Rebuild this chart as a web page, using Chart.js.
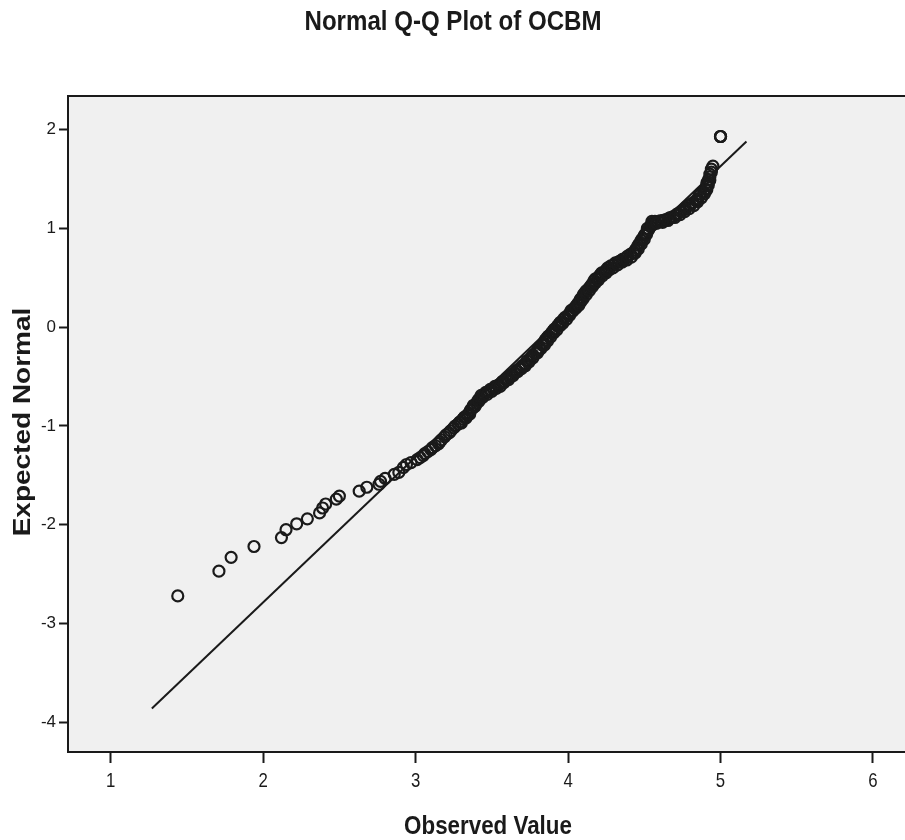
<!DOCTYPE html>
<html>
<head>
<meta charset="utf-8">
<script src="https://cdn.jsdelivr.net/npm/chart.js@4/dist/chart.umd.min.js"></script>
<style>
  html, body { margin: 0; padding: 0; background: #fff; overflow: hidden; }
</style>
</head>
<body>
<canvas id="qq" width="905" height="840"></canvas>
<script>
const observed = [
  1.44, 1.71, 1.79, 1.94, 2.12, 2.15, 2.22, 2.29, 2.37, 2.39, 2.41, 2.48, 2.50,
  2.63, 2.68, 2.76, 2.77, 2.80, 2.86, 2.89, 2.92, 2.94, 2.97,
  3.01, 3.03, 3.05, 3.06, 3.08, 3.10, 3.11, 3.13,
  3.15, 3.16, 3.17, 3.19, 3.20, 3.22, 3.23, 3.25, 3.26,
  3.28, 3.29, 3.31, 3.32, 3.34, 3.35,
  3.36, 3.37, 3.38, 3.40, 3.41, 3.42,
  3.43, 3.45, 3.46, 3.48, 3.49, 3.51, 3.52, 3.54,
  3.56, 3.57, 3.59, 3.60, 3.62, 3.63, 3.65, 3.66, 3.68,
  3.69, 3.70, 3.72, 3.73, 3.75, 3.76, 3.77, 3.79,
  3.80, 3.81, 3.83, 3.84, 3.85, 3.86, 3.87,
  3.89, 3.90, 3.91, 3.93, 3.94, 3.95, 3.97, 3.98,
  4.00, 4.01, 4.02, 4.04, 4.05, 4.06,
  4.07, 4.08, 4.09, 4.10, 4.11, 4.12, 4.14, 4.15, 4.16,
  4.17, 4.18, 4.20, 4.21, 4.22, 4.24, 4.25, 4.26,
  4.28, 4.30, 4.31, 4.33,
  4.34, 4.36, 4.38, 4.39, 4.41,
  4.43, 4.44, 4.45, 4.46, 4.47,
  4.48, 4.49, 4.50, 4.51, 4.52,
  4.52, 4.54, 4.55,
  4.55, 4.57, 4.59, 4.61,
  4.63, 4.64, 4.66, 4.67,
  4.69, 4.71, 4.72, 4.74,
  4.76, 4.77, 4.79, 4.80, 4.82,
  4.84, 4.85, 4.86, 4.87,
  4.89, 4.90, 4.91, 4.91,
  4.92, 4.93, 4.93, 4.94,
  4.94, 4.95,
  5.00, 5.00, 5.00,
  // circles packed beside the main run, where the band is thick
  3.30, 3.33, 3.355, 3.375, 3.39, 3.415, 3.44, 3.47, 3.50, 3.53,
  3.555, 3.58, 3.61, 3.64, 3.67, 3.695, 3.72, 3.745, 3.77, 3.80,
  3.82, 3.845, 3.865, 3.885, 3.905, 3.925, 3.945, 3.965, 3.99, 4.01,
  4.03, 4.05, 4.07, 4.085, 4.10, 4.12, 4.14, 4.16, 4.18, 4.20,
  4.225, 4.25, 4.27, 4.295, 4.325, 4.355, 4.385, 4.415, 4.44, 4.46,
  4.48, 4.50, 4.515, 4.53, 4.55, 4.58, 4.62, 4.655, 4.70, 4.735,
  4.765, 4.795, 4.825, 4.85, 4.875, 4.895, 4.91, 4.92, 4.93
];
const expected = [
  -2.72, -2.47, -2.33, -2.22, -2.13, -2.05, -1.99, -1.94, -1.88, -1.83, -1.79, -1.74, -1.71,
  -1.66, -1.62, -1.59, -1.56, -1.53, -1.49, -1.47, -1.42, -1.39, -1.37,
  -1.34, -1.32, -1.30, -1.28, -1.26, -1.24, -1.22, -1.20,
  -1.18, -1.16, -1.14, -1.11, -1.09, -1.07, -1.05, -1.02, -1.00,
  -0.98, -0.96, -0.93, -0.91, -0.89, -0.87,
  -0.84, -0.82, -0.79, -0.77, -0.74, -0.72,
  -0.69, -0.68, -0.66, -0.65, -0.63, -0.62, -0.60, -0.59,
  -0.57, -0.55, -0.53, -0.52, -0.50, -0.48, -0.46, -0.44, -0.42,
  -0.41, -0.39, -0.37, -0.34, -0.32, -0.30, -0.28, -0.26,
  -0.23, -0.21, -0.18, -0.16, -0.13, -0.11, -0.09,
  -0.06, -0.04, -0.02, 0.01, 0.03, 0.05, 0.08, 0.10,
  0.12, 0.14, 0.17, 0.19, 0.21, 0.23,
  0.25, 0.28, 0.30, 0.33, 0.35, 0.37, 0.40, 0.42, 0.44,
  0.47, 0.49, 0.51, 0.53, 0.55, 0.56, 0.58, 0.60,
  0.62, 0.63, 0.65, 0.66,
  0.67, 0.69, 0.70, 0.72, 0.74,
  0.75, 0.78, 0.80, 0.83, 0.85,
  0.88, 0.90, 0.93, 0.95, 0.97,
  1.00, 1.02, 1.05,
  1.07, 1.07, 1.07, 1.08,
  1.08, 1.09, 1.10, 1.11,
  1.12, 1.14, 1.15, 1.17,
  1.19, 1.21, 1.23, 1.24, 1.26,
  1.28, 1.30, 1.33, 1.35,
  1.37, 1.40, 1.43, 1.46,
  1.49, 1.52, 1.55, 1.57,
  1.60, 1.63,
  1.93, 1.93, 1.93,
  -0.97, -0.92, -0.88, -0.82, -0.80, -0.75, -0.71, -0.68, -0.65, -0.62,
  -0.60, -0.56, -0.53, -0.49, -0.45, -0.42, -0.39, -0.35, -0.31, -0.26,
  -0.22, -0.18, -0.14, -0.10, -0.06, -0.03, 0.01, 0.04, 0.08, 0.12,
  0.16, 0.19, 0.22, 0.26, 0.29, 0.33, 0.37, 0.41, 0.45, 0.48,
  0.52, 0.55, 0.58, 0.60, 0.63, 0.66, 0.68, 0.71, 0.75, 0.79,
  0.84, 0.89, 0.94, 0.99, 1.03, 1.05, 1.06, 1.08, 1.11, 1.14,
  1.17, 1.20, 1.23, 1.27, 1.31, 1.35, 1.39, 1.44, 1.49
];
// reference line end points
const lineX = [1.27, 5.17];
const lineY = [-3.86, 1.88];

const xTicks = [1, 2, 3, 4, 5, 6];
const yTicks = [2, 1, 0, -1, -2, -3, -4];

const chartTitle = 'Normal Q-Q Plot of OCBM';
const xTitle = 'Observed Value';
const yTitle = 'Expected Normal';

const arial = "'Liberation Sans', Arial, sans-serif";
const ink = '#1a1a1a';
const squeeze = 0.86; // the original picture is a bit narrowed

// draw text narrowed along the screen x direction
function narrowText(ctx, text, x, y, font, rotated, k) {
  ctx.save();
  ctx.translate(x, y);
  if (rotated) {
    ctx.rotate(-Math.PI / 2);
    ctx.scale(1, k || squeeze);
  } else {
    ctx.scale(k || squeeze, 1);
  }
  ctx.font = font;
  ctx.fillStyle = ink;
  ctx.textAlign = 'center';
  ctx.textBaseline = 'alphabetic';
  ctx.fillText(text, 0, 0);
  ctx.restore();
}

const plotFrame = {
  id: 'plotFrame',
  beforeDraw(chart) {
    const { ctx, chartArea: a } = chart;
    ctx.save();
    ctx.fillStyle = '#f0f0f0';
    ctx.fillRect(a.left, a.top, a.right - a.left, a.bottom - a.top);
    ctx.restore();
  },
  afterDraw(chart) {
    const { ctx, chartArea: a } = chart;
    const xs = chart.scales.x;
    ctx.save();
    ctx.strokeStyle = ink;
    ctx.lineWidth = 2;
    ctx.beginPath();
    ctx.moveTo(a.left - 1, a.top);
    ctx.lineTo(a.right, a.top);
    ctx.stroke();
    ctx.restore();

    narrowText(ctx, chartTitle, 453, 30, 'bold 28px ' + arial, false);
    narrowText(ctx, xTitle, 488, 834, 'bold 26px ' + arial, false);
    narrowText(ctx, yTitle, 30, 422, 'bold 28px ' + arial, true);
    xTicks.forEach(v => {
      narrowText(ctx, String(v), xs.getPixelForValue(v), 787, '21px ' + arial, false, 0.8);
    });
  }
};

new Chart(document.getElementById('qq'), {
  type: 'scatter',
  data: {
    datasets: [
      {
        label: 'Observed',
        data: observed.map((x, i) => ({ x: x, y: expected[i] })),
        pointStyle: 'circle',
        pointRadius: 5.5,
        pointBorderWidth: 2.2,
        pointBackgroundColor: 'rgba(0,0,0,0)',
        pointBorderColor: ink
      },
      {
        label: 'Line',
        type: 'line',
        data: lineX.map((x, i) => ({ x: x, y: lineY[i] })),
        borderColor: ink,
        borderWidth: 2,
        pointRadius: 0,
        fill: false
      }
    ]
  },
  options: {
    responsive: false,
    animation: false,
    layout: { autoPadding: false, padding: { left: 0, right: 0, top: 96, bottom: 0 } },
    plugins: {
      legend: { display: false },
      tooltip: { enabled: false },
      title: { display: false }
    },
    scales: {
      x: {
        type: 'linear',
        min: 0.72,
        max: 6.21,
        afterBuildTicks: s => { s.ticks = xTicks.map(v => ({ value: v })); },
        afterFit: s => { s.height = 88; },
        ticks: { display: false, includeBounds: false },
        grid: { drawOnChartArea: false, drawTicks: true, tickLength: 11, tickWidth: 2, tickColor: ink },
        border: { display: true, color: ink, width: 2 }
      },
      y: {
        type: 'linear',
        min: -4.30,
        max: 2.34,
        afterBuildTicks: s => { s.ticks = yTicks.map(v => ({ value: v })); },
        afterFit: s => { s.width = 68; },
        ticks: {
          includeBounds: false,
          color: ink,
          padding: 3,
          font: { family: arial, size: 17 }
        },
        grid: { drawOnChartArea: false, drawTicks: true, tickLength: 9, tickWidth: 2, tickColor: ink },
        border: { display: true, color: ink, width: 2 }
      }
    }
  },
  plugins: [plotFrame]
});
</script>
</body>
</html>
